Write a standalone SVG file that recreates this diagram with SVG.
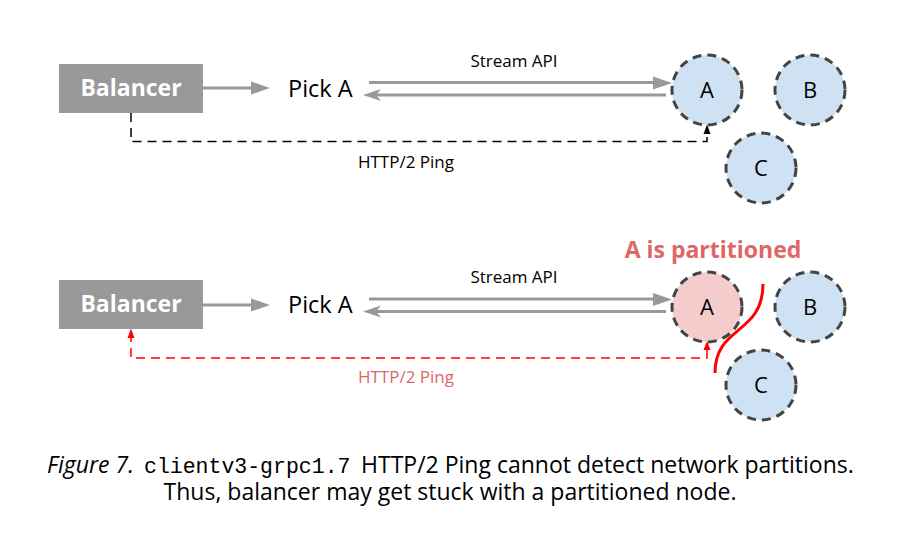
<svg xmlns="http://www.w3.org/2000/svg" width="906" height="553" viewBox="0 0 906 553">
<style>
.bal{fill:#999999}
.baltxt{font-family:"Open Sans","Noto Sans",sans-serif;font-weight:bold;font-size:23px;fill:#ffffff;text-anchor:middle}
.pick{font-family:"Open Sans","Noto Sans",sans-serif;font-size:23.5px;fill:#000}
.lbl{font-family:"Open Sans","Noto Sans",sans-serif;font-size:17px;fill:#000}
.node{stroke:#434343;stroke-width:3;stroke-dasharray:9,6}
.blue{fill:#cfe2f3}
.pink{fill:#f4cccc}
.ntxt{font-family:"Open Sans","Noto Sans",sans-serif;font-size:22px;fill:#000;text-anchor:middle}
.garrow{stroke:#999999;stroke-width:3;fill:none}
.ping{stroke:#000;stroke-width:1.5;fill:none;stroke-dasharray:9,6}
.rping{stroke:#ff0000;stroke-width:1.5;fill:none;stroke-dasharray:9,6}
.cap{font-family:"Open Sans","Noto Sans",sans-serif;font-size:23px;fill:#000}
</style>
<rect width="906" height="553" fill="#ffffff"/>
<g id="connectors">
  <line class="garrow" x1="203" y1="88" x2="254" y2="88"/>
  <polygon points="251,81.5 270,88 251,94.5" fill="#999999"/>
  <line class="garrow" x1="369" y1="82.5" x2="655" y2="82.5"/>
  <polygon points="653,76.5 672,83 653,89.5" fill="#999999"/>
  <line class="garrow" x1="372" y1="95" x2="666" y2="95"/>
  <polygon points="363,95 381,89 376,95 381,101" fill="#999999"/>
  <polyline class="ping" points="131,113 131,141.5 707,141.5 707,134"/>
  <polygon points="703.5,134 707,124.5 710.5,134" fill="#000"/>
  <line class="garrow" x1="203" y1="305" x2="254" y2="305"/>
  <polygon points="251,298.5 270,305 251,311.5" fill="#999999"/>
  <line class="garrow" x1="369" y1="299" x2="655" y2="299"/>
  <polygon points="653,293 672,299.5 653,306" fill="#999999"/>
  <line class="garrow" x1="372" y1="311.5" x2="666" y2="311.5"/>
  <polygon points="363,311.5 381,305.5 376,311.5 381,317.5" fill="#999999"/>
  <polyline class="rping" points="707,350 707,358 131,358 131,338"/>
  <polygon points="703.5,350 707,341 710.5,350" fill="#ff0000"/>
  <polygon points="127.5,338 131,328.5 134.5,338" fill="#ff0000"/>
  <path d="M763,284 C763,335 715,325 715,373" stroke="#ff0000" stroke-width="3" fill="none"/>
</g>
<text class="lbl" x="514" y="67" text-anchor="middle">Stream API</text>
<text class="lbl" x="406" y="168" text-anchor="middle">HTTP/2 Ping</text>
<text class="lbl" x="514" y="283" text-anchor="middle">Stream API</text>
<text class="lbl" x="406" y="383" text-anchor="middle" style="fill:#e06666">HTTP/2 Ping</text>
<text x="713" y="258" text-anchor="middle" style="font-family:'Open Sans','Noto Sans',sans-serif;font-weight:bold;font-size:23px;fill:#e06666">A is partitioned</text>
<g id="balancer1"><rect class="bal" x="59" y="64" width="144" height="49"/><text class="baltxt" x="131" y="96">Balancer</text></g>
<g id="picka1"><text class="pick" x="288" y="97">Pick A</text></g>
<g id="a1"><circle class="node blue" cx="707" cy="90" r="35"/><text class="ntxt" x="707" y="98">A</text></g>
<g id="b1"><circle class="node blue" cx="810" cy="90" r="35"/><text class="ntxt" x="810" y="98">B</text></g>
<g id="c1"><circle class="node blue" cx="761" cy="168" r="35"/><text class="ntxt" x="761" y="176">C</text></g>
<g id="balancer2"><rect class="bal" x="59" y="280" width="144" height="49"/><text class="baltxt" x="131" y="312">Balancer</text></g>
<g id="picka2"><text class="pick" x="288" y="313">Pick A</text></g>
<g id="a2"><circle class="node pink" cx="707" cy="307" r="35"/><text class="ntxt" x="707" y="315">A</text></g>
<g id="b2"><circle class="node blue" cx="810" cy="307" r="35"/><text class="ntxt" x="810" y="315">B</text></g>
<g id="c2"><circle class="node blue" cx="761" cy="385" r="35"/><text class="ntxt" x="761" y="393">C</text></g>
<text class="cap" x="47" y="473" font-style="italic">Figure 7.</text>
<text x="144" y="473" style="font-family:'Liberation Mono','DejaVu Sans Mono',monospace;font-size:21.5px;fill:#000">clientv3-grpc1.7</text>
<text class="cap" x="361" y="473">HTTP/2 Ping cannot detect network partitions.</text>
<text class="cap" x="450" y="500" text-anchor="middle">Thus, balancer may get stuck with a partitioned node.</text>
</svg>
